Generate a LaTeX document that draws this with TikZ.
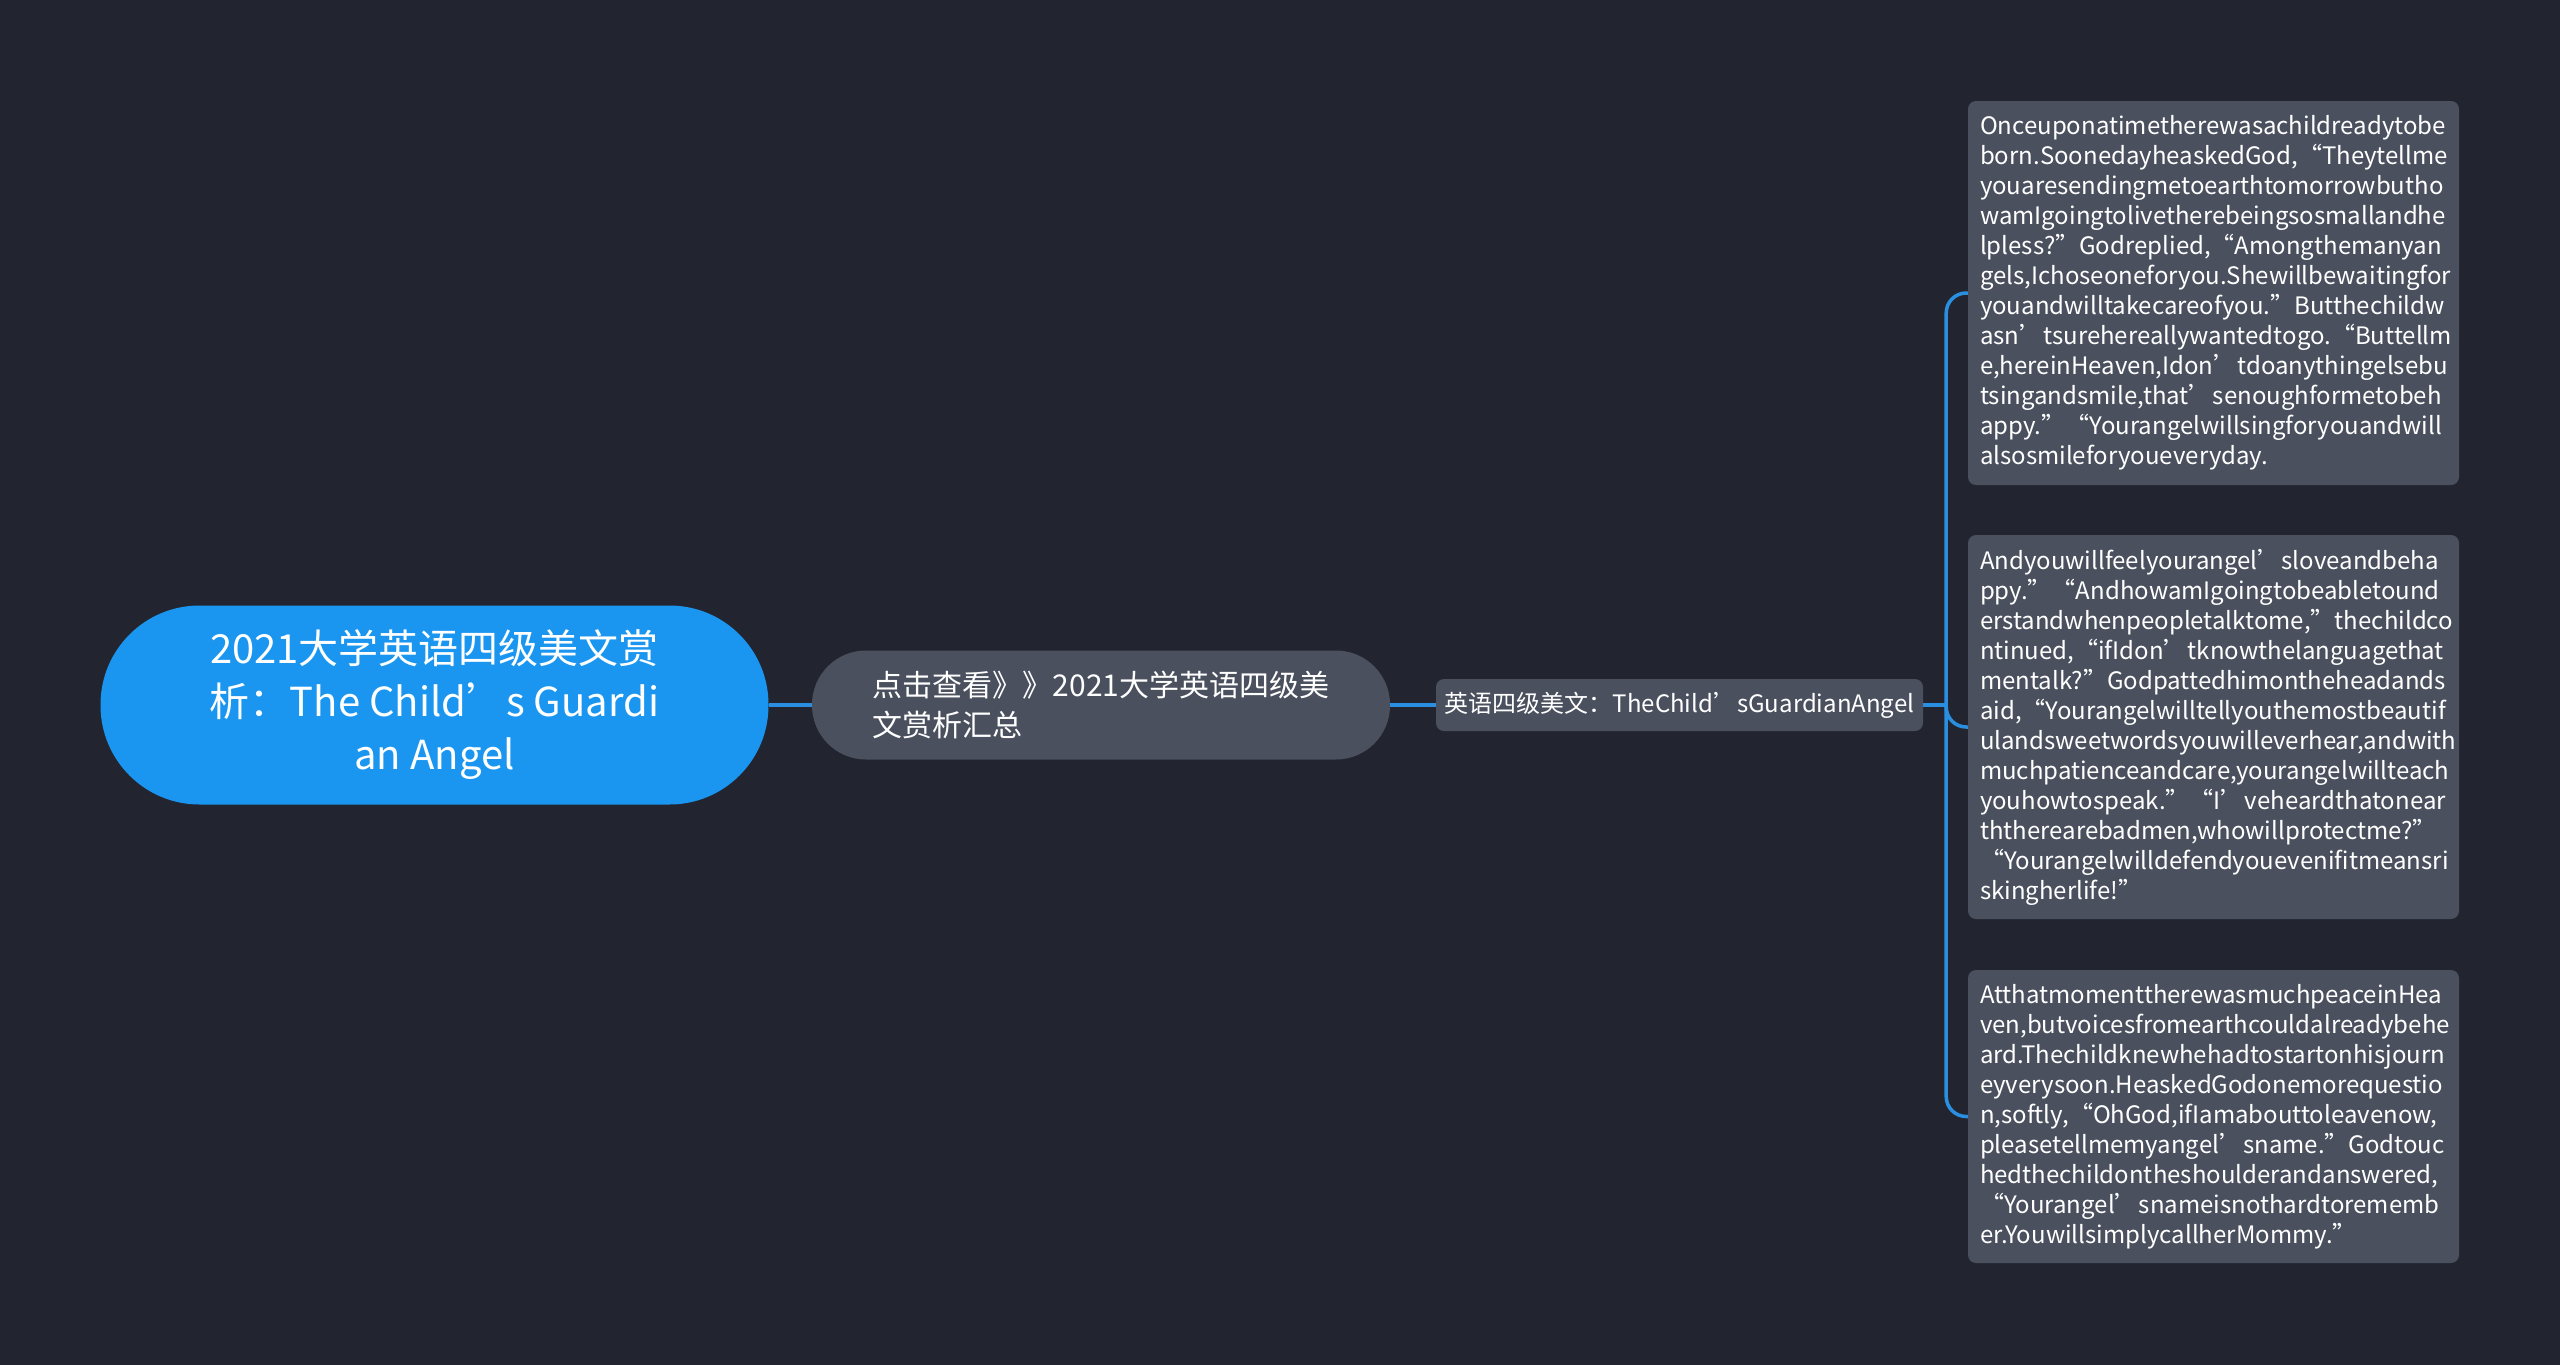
\documentclass[tikz,border=0pt]{standalone}
\usepackage{fontspec}
\setmainfont{Noto Sans CJK SC}
\usetikzlibrary{calc}
\definecolor{bg}{HTML}{22252F}
\definecolor{rootblue}{HTML}{1A96F0}
\definecolor{nodegray}{HTML}{4A505E}
\definecolor{linkblue}{HTML}{2A8FE0}
\tikzset{
  rootbox/.style={fill=rootblue, text=white, rounded corners=99pt, minimum width=668pt, minimum height=199pt, align=center, inner sep=0pt, font=\fontsize{40}{53}\selectfont},
  pillbox/.style={fill=nodegray, text=white, rounded corners=54pt, minimum width=578pt, minimum height=109pt, align=left, inner sep=0pt, font=\fontsize{30}{40}\selectfont},
  tagbox/.style={fill=nodegray, text=white, rounded corners=8pt, minimum width=487pt, minimum height=52pt, inner sep=0pt, font=\fontsize{24}{30}\selectfont},
  leafbox/.style={fill=nodegray, text=white, rounded corners=8pt, text width=467pt, inner xsep=12pt, inner ysep=0pt, align=left, font=\fontsize{24}{30}\selectfont},
  link/.style={draw=linkblue, line width=3.5pt},
}
\begin{document}
\begin{tikzpicture}[x=1pt, y=-1pt]
\useasboundingbox (0,0) rectangle (2560,1365);
\fill[bg] (0,0) rectangle (2560,1365);

\node[rootbox] (root) at (434.5,705) {2021大学英语四级美文赏\\析：The Child’s Guardi\\an Angel};
\node[pillbox] (sum) at (1101,705) {点击查看》》2021大学英语四级美\\文赏析汇总};
\node[tagbox] (tag) at (1679.5,705) {英语四级美文：TheChild’sGuardianAngel};

\node[leafbox, minimum height=384pt] (l1) at (2213.5,293) {Onceuponatimetherewasachildreadytobe\\born.SoonedayheaskedGod,“Theytellme\\youaresendingmetoearthtomorrowbutho\\wamIgoingtolivetherebeingsosmallandhe\\lpless?”Godreplied,“Amongthemanyan\\gels,Ichoseoneforyou.Shewillbewaitingfor\\youandwilltakecareofyou.”Butthechildw\\asn’tsurehereallywantedtogo.“Buttellm\\e,hereinHeaven,Idon’tdoanythingelsebu\\tsingandsmile,that’senoughformetobeh\\appy.”“Yourangelwillsingforyouandwill\\alsosmileforyoueveryday.};

\node[leafbox, minimum height=384pt] (l2) at (2213.5,727) {Andyouwillfeelyourangel’sloveandbeha\\ppy.”“AndhowamIgoingtobeabletound\\erstandwhenpeopletalktome,”thechildco\\ntinued,“ifIdon’tknowthelanguagethat\\mentalk?”Godpattedhimontheheadands\\aid,“Yourangelwilltellyouthemostbeautif\\ulandsweetwordsyouwilleverhear,andwith\\muchpatienceandcare,yourangelwillteach\\youhowtospeak.”“I’veheardthatonear\\ththerearebadmen,whowillprotectme?”\\“Yourangelwilldefendyouevenifitmeansri\\skingherlife!”};

\node[leafbox, minimum height=293pt] (l3) at (2213.5,1116.5) {AtthatmomenttherewasmuchpeaceinHea\\ven,butvoicesfromearthcouldalreadybehe\\ard.Thechildknewhehadtostartonhisjourn\\eyverysoon.HeaskedGodonemorequestio\\n,softly,“OhGod,ifIamabouttoleavenow,\\pleasetellmemyangel’sname.”Godtouc\\hedthechildontheshoulderandanswered,\\“Yourangel’snameisnothardtorememb\\er.YouwillsimplycallherMommy.”};

\draw[link] (root.east) -- (sum.west);
\draw[link] (sum.east) -- (tag.west);
\coordinate (j) at ($(tag.east)+(23,0)$);
\draw[link] (tag.east) -- (j);
\draw[link, rounded corners=20pt] (j) |- (l1.west);
\draw[link, rounded corners=20pt] (j) |- (l2.west);
\draw[link, rounded corners=20pt] (j) |- (l3.west);
\end{tikzpicture}
\end{document}
